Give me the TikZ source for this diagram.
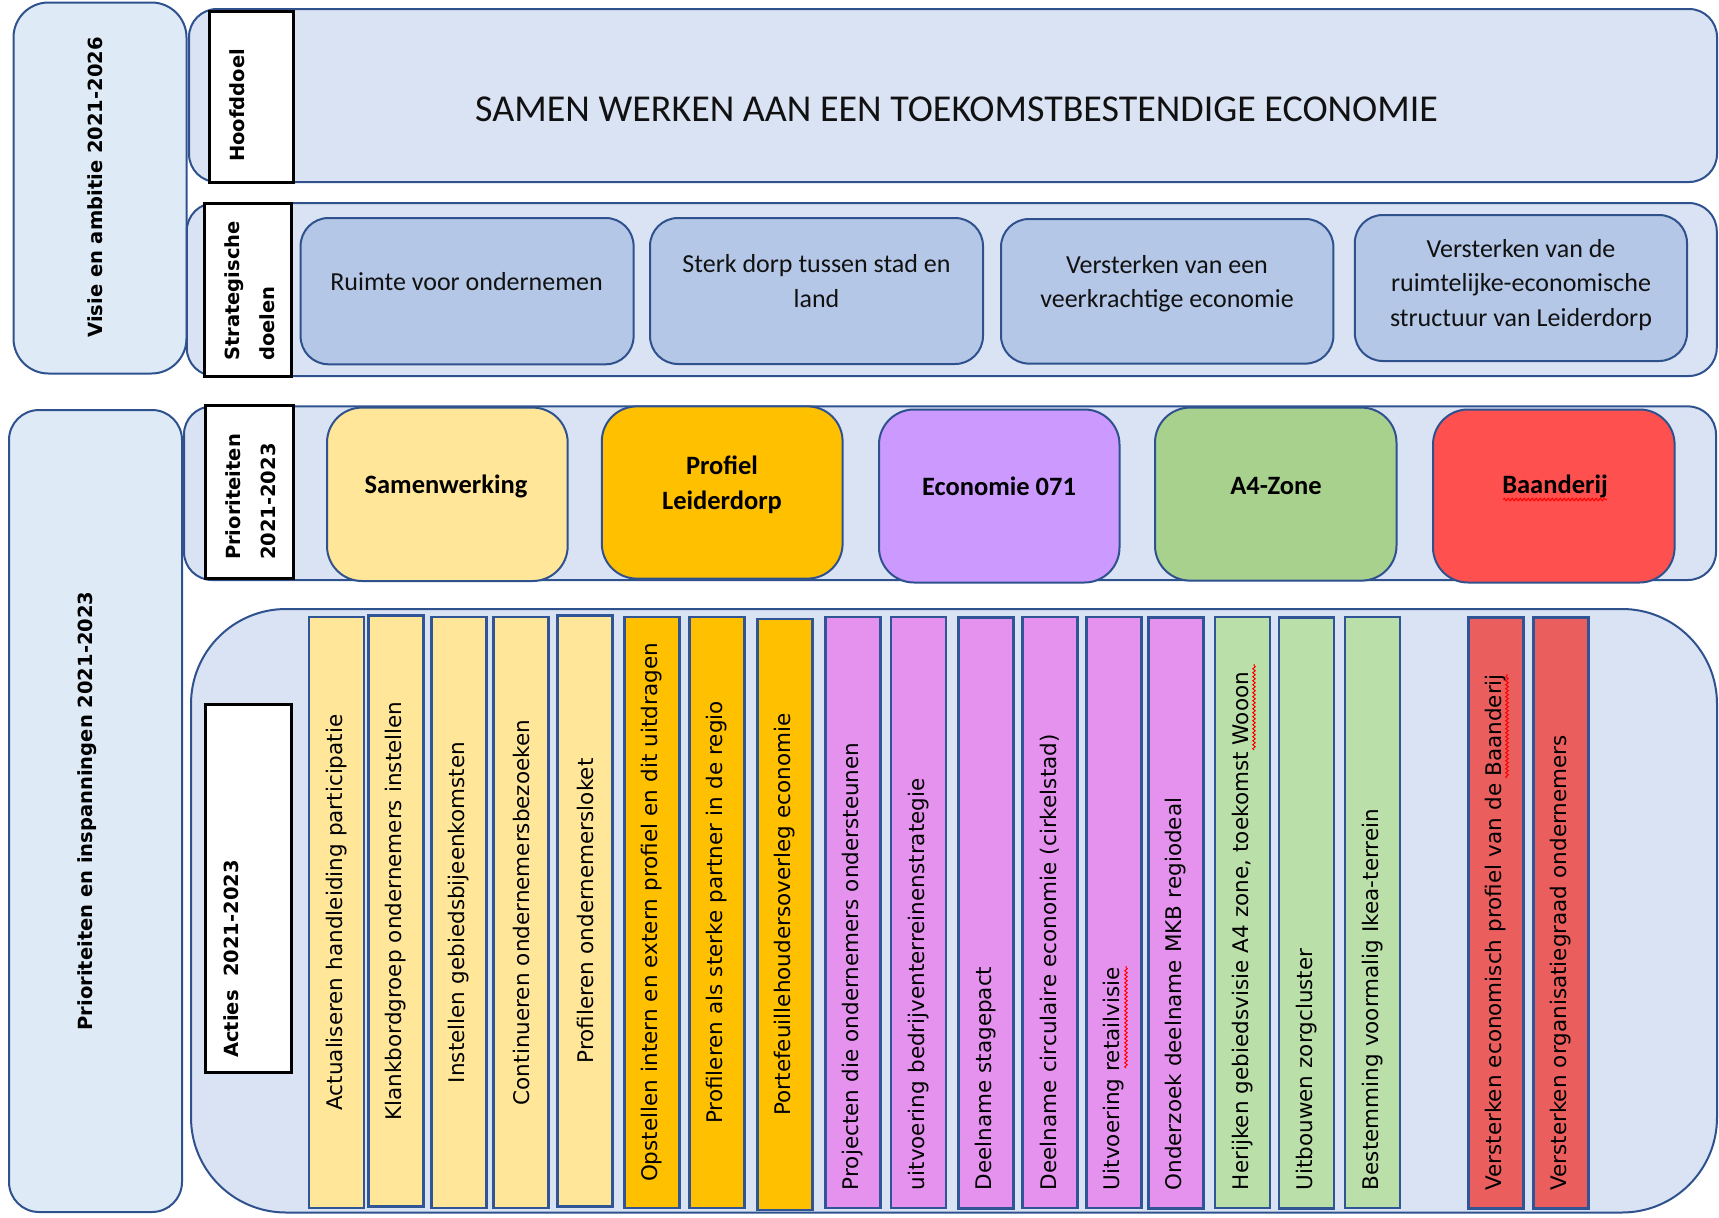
\documentclass[tikz,border=0pt]{standalone}
\usepackage{fontspec}
\setmainfont{Carlito}
\newfontfamily\vfont{DejaVu Sans}
\usetikzlibrary{decorations.pathmorphing}
\definecolor{edge}{HTML}{2F528F}
\definecolor{coledge}{HTML}{2F5597}
\definecolor{rowfill}{HTML}{DAE3F3}
\definecolor{sidefill}{HTML}{DEEBF7}
\definecolor{goalfill}{HTML}{B4C7E7}
\definecolor{pyel}{HTML}{FFE699}
\definecolor{porange}{HTML}{FFC000}
\definecolor{ppurple}{HTML}{CC99FF}
\definecolor{pgreen}{HTML}{A9D18E}
\definecolor{pred}{HTML}{FF5050}
\definecolor{cyel}{HTML}{FFE699}
\definecolor{corange}{HTML}{FFC000}
\definecolor{cpink}{HTML}{E592EF}
\definecolor{cgreen}{HTML}{BADFA9}
\definecolor{cred}{HTML}{EB5E5E}
\definecolor{txt}{HTML}{111111}
\newcommand\lblfont{\vfont\bfseries\fontsize{19.5pt}{35pt}\selectfont}
\newcommand\colfont{\vfont\fontsize{21.5pt}{26pt}\selectfont}
\newcommand\goalfont{\fontsize{26pt}{34.5pt}\selectfont}
\newcommand\priofont{\bfseries\fontsize{26.5pt}{35.5pt}\selectfont}
\newcommand\titlefont{\fontsize{38pt}{42pt}\selectfont}
\tikzset{
  sidebox/.style={draw=edge, fill=sidefill, line width=2pt, inner sep=0pt},
  rowbox/.style={draw=edge, fill=rowfill, line width=2pt, rounded corners=28pt, inner sep=0pt},
  labelbox/.style={draw=black, fill=white, line width=3pt, inner sep=0pt},
  goalbox/.style={draw=edge, fill=goalfill, line width=2pt, rounded corners=28pt, inner sep=0pt},
  priobox/.style={draw=edge, line width=2pt, rounded corners=35pt, inner sep=0pt},
  lbl/.style={rotate=90, inner sep=0pt, font=\lblfont, align=left, text=black},
  goaltext/.style={inner sep=0pt, font=\goalfont, align=center, text=txt},
  priotext/.style={inner sep=0pt, font=\priofont, align=center, text=black},
  colbase/.style={draw=coledge, line width=2.5pt, rotate=90, minimum width=591pt,
    minimum height=55pt, inner ysep=0pt, font=\colfont, text=black},
  colc/.style={colbase, text width=585pt, inner xsep=3pt, align=center},
  coll/.style={colbase, text width=555pt, inner xsep=18pt, align=left},
  squig/.style={draw=red, line width=1pt, decorate,
    decoration={snake, segment length=4pt, amplitude=1.3pt}}
}
\begin{document}
\begin{tikzpicture}[x=1pt,y=-1pt]
\fill[white] (0,0) rectangle (1719,1218);
\useasboundingbox (0,0) rectangle (1719,1218);

% side boxes
\node[sidebox, rounded corners=35pt, minimum width=173pt, minimum height=371pt] (visie) at (100,188) {};
\node[sidebox, rounded corners=30pt, minimum width=173pt, minimum height=802pt] (prio) at (95.5,811) {};

% rows
\node[rowbox, minimum width=1528pt, minimum height=173pt] (hrow) at (953,95.5) {};
\node[rowbox, minimum width=1530pt, minimum height=173pt] (srow) at (951.75,289.5) {};
\node[rowbox, minimum width=1532pt, minimum height=173.6pt] (prow) at (950,493.2) {};
\node[rowbox, rounded corners=95pt, minimum width=1526pt, minimum height=603.5pt] (arow) at (954,910.75) {};

% label boxes
\node[labelbox, minimum width=84pt, minimum height=171.5pt] (hlab) at (251.5,96.75) {};
\node[labelbox, minimum width=87.2pt, minimum height=173pt] (slab) at (248.2,289.5) {};
\node[labelbox, minimum width=88.5pt, minimum height=172.9pt] (plab) at (249.25,492.15) {};
\node[labelbox, minimum width=86.1pt, minimum height=368.6pt] (alab) at (248.75,888.3) {};

% label texts
\node[lbl] (visiet) at (95.4,187.5) {Visie en ambitie 2021-2026};
\node[lbl] (priot) at (87.3,811) {Prioriteiten en inspanningen 2021-2023};
\node[lbl] (hlabt) at (237.5,105.5) {Hoofddoel};
\node[lbl] (slabt) at (249.5,291) {Strategische\\doelen};
\node[lbl] (plabt) at (250.5,497) {Prioriteiten\\2021-2023};
\node[lbl] (alabt) at (231.7,959) {Acties\ \ 2021-2023};

% title
\node[inner sep=0pt, font=\titlefont, text=txt] (title) at (956.6,109.6)
  {SAMEN WERKEN AAN EEN TOEKOMSTBESTENDIGE ECONOMIE};

% strategic goals
\node[goalbox, minimum width=333pt, minimum height=146.3pt] (g1) at (467.1,291.15) {};
\node[goalbox, minimum width=333pt, minimum height=146pt] (g2) at (816.5,291) {};
\node[goalbox, minimum width=332.4pt, minimum height=144.6pt] (g3) at (1167.2,291.3) {};
\node[goalbox, minimum width=332.2pt, minimum height=146pt] (g4) at (1520.9,288) {};
\node[goaltext] (g1t) at (466.5,282) {Ruimte voor ondernemen};
\node[goaltext] (g2t) at (816.5,281) {Sterk dorp tussen stad en\\land};
\node[goaltext] (g3t) at (1167,283.5) {Versterken van een\\veerkrachtige economie};
\node[goaltext] (g4t) at (1521,285) {Versterken van de\\ruimtelijke-economische\\structuur van Leiderdorp};

% priorities
\node[priobox, fill=pyel, minimum width=240.7pt, minimum height=173.4pt] (p1) at (447.35,494.3) {};
\node[priobox, fill=porange, minimum width=240.8pt, minimum height=172.2pt] (p2) at (722.2,492.5) {};
\node[priobox, fill=ppurple, minimum width=240.5pt, minimum height=173pt] (p3) at (999.25,496) {};
\node[priobox, fill=pgreen, minimum width=241.5pt, minimum height=173pt] (p4) at (1275.75,494.1) {};
\node[priobox, fill=pred, minimum width=241.6pt, minimum height=173pt] (p5) at (1553.8,496) {};
\node[priotext] (p1t) at (446,486) {Samenwerking};
\node[priotext] (p2t) at (722,485) {Profiel\\Leiderdorp};
\node[priotext] (p3t) at (999,486) {Economie 071};
\node[priotext] (p4t) at (1276,486) {A4-Zone};
\node[priotext] (p5t) at (1555,486) {Baanderij};
\coordinate (sq1a) at (1503,499.5);
\coordinate (sq1b) at (1607,499.5);
\path[squig] (sq1a) -- (sq1b);

% action columns
\node[colc, fill=cyel] (c1) at (336.5,912.5) {Actualiseren handleiding participatie};
\node[colc, fill=cyel] (c2) at (396,911) {Klankbordgroep ondernemers instellen};
\node[colc, fill=cyel] (c3) at (459,912.5) {Instellen gebiedsbijeenkomsten};
\node[colc, fill=cyel] (c4) at (521,912.5) {Continueren ondernemersbezoeken};
\node[colc, fill=cyel] (c5) at (585,911) {Profileren ondernemersloket};
\node[colc, fill=corange] (c6) at (652,912.5) {Opstellen intern en extern profiel en dit uitdragen};
\node[colc, fill=corange] (c7) at (717,912.5) {Profileren als sterke partner in de regio};
\node[colc, fill=corange] (c8) at (784.75,914.5) {Portefeuillehoudersoverleg economie};
\node[coll, fill=cpink] (c9) at (853,912.5) {Projecten die ondernemers ondersteunen};
\node[coll, fill=cpink] (c10) at (918.5,912.5) {uitvoering bedrijventerreinenstrategie};
\node[coll, fill=cpink] (c11) at (986,913) {Deelname stagepact};
\node[coll, fill=cpink] (c12) at (1050,912.5) {Deelname circulaire economie (cirkelstad)};
\node[coll, fill=cpink] (c13) at (1114,912.5) {Uitvoering retailvisie};
\node[coll, fill=cpink] (c14) at (1176,913) {Onderzoek deelname MKB regiodeal};
\node[coll, fill=cgreen] (c15) at (1242.5,912.5) {Herijken gebiedsvisie A4 zone, toekomst Wooon};
\node[coll, fill=cgreen] (c16) at (1306.5,913) {Uitbouwen zorgcluster};
\node[coll, fill=cgreen] (c17) at (1372.5,912.5) {Bestemming voormalig Ikea-terrein};
\node[coll, fill=cred] (c18) at (1496,913) {Versterken economisch profiel van de Baanderij};
\node[coll, fill=cred] (c19) at (1561,913) {Versterken organisatiegraad ondernemers};

% spell-check squiggles
\coordinate (sq2a) at (1126,1068);
\coordinate (sq2b) at (1126,966);
\path[squig] (sq2a) -- (sq2b);
\coordinate (sq3a) at (1254,750);
\coordinate (sq3b) at (1254,664);
\path[squig] (sq3a) -- (sq3b);
\coordinate (sq4a) at (1507,778);
\coordinate (sq4b) at (1507,674);
\path[squig] (sq4a) -- (sq4b);
\end{tikzpicture}
\end{document}
